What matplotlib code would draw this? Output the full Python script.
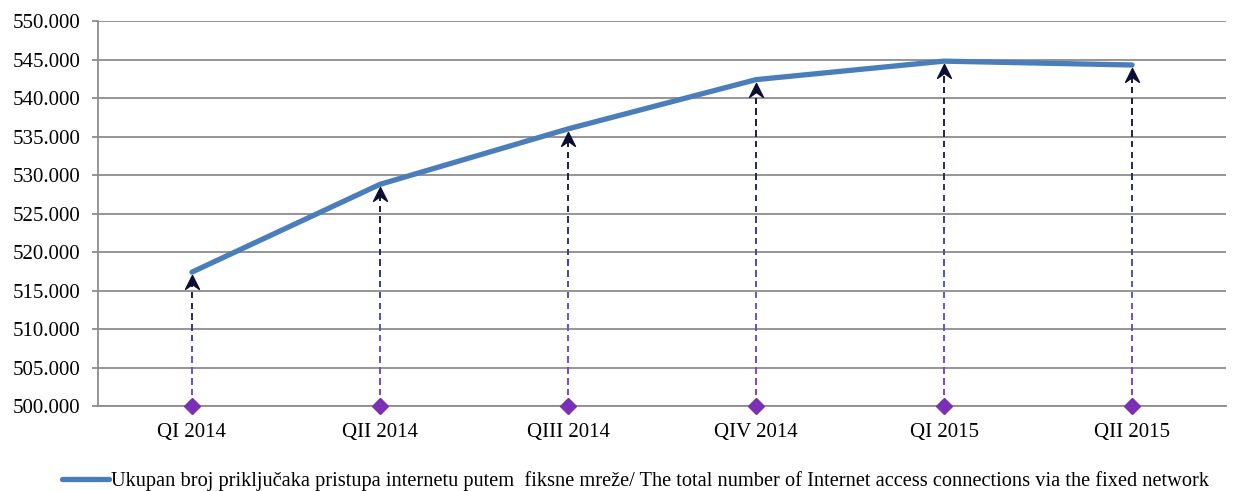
import numpy as np
import matplotlib
matplotlib.use('Agg')
import matplotlib.pyplot as plt
from matplotlib.path import Path
from matplotlib.colors import LinearSegmentedColormap
from matplotlib.ticker import FuncFormatter

quarters = ['QI 2014', 'QII 2014', 'QIII 2014', 'QIV 2014', 'QI 2015', 'QII 2015']
connections = [517400, 528800, 536000, 542400, 544800, 544300]
legend_label = ('Ukupan broj priključaka pristupa internetu putem  fiksne mreže/ '
                'The total number of Internet access connections via the fixed network')

plt.rcParams['font.family'] = ['Liberation Serif', 'DejaVu Serif']

fig = plt.figure(figsize=(12.37, 4.91), dpi=100)
ax = fig.add_axes([0.0792, 0.173, 0.912, 0.784])

x = np.arange(len(quarters))
base = 500000
ax.set_xlim(-0.5, len(quarters) - 0.5)
ax.set_ylim(500000, 550000)
ax.set_yticks(np.arange(500000, 550001, 5000))
ax.yaxis.set_major_formatter(FuncFormatter(lambda v, p: f'{v/1000:.3f}'))
ax.set_xticks(x)
ax.set_xticklabels(quarters)
ax.tick_params(axis='x', length=0, labelsize=15, pad=12)
ax.tick_params(axis='y', length=4.5, width=1.3, color='#8c8c8c', labelsize=15, pad=8)
ax.grid(axis='y', color='#8c8c8c', linewidth=1.3)
ax.set_axisbelow(True)
for s in ['top', 'right']:
    ax.spines[s].set_visible(False)
ax.spines['left'].set_color('#8c8c8c')
ax.spines['left'].set_linewidth(1.3)
ax.spines['bottom'].set_color('#8c8c8c')
ax.spines['bottom'].set_linewidth(1.3)

# gradient dashed drop lines
cmap = LinearSegmentedColormap.from_list('drop', ['#8a3cc8', '#5a5ad8', '#2a2a70', '#141438'])
dash, gap = 850, 550
for xi, v in zip(x, connections):
    top = v - 1000
    y0 = base
    while y0 < top:
        y1 = min(y0 + dash, top)
        frac = (y0 - base) / (top - base)
        ax.plot([xi, xi], [y0, y1], color=cmap(frac), linewidth=1.4, solid_capstyle='butt', zorder=3)
        y0 = y1 + gap

head = Path([(0, 0), (-0.5, -1.0), (0, -0.65), (0.5, -1.0), (0, 0)],
            [Path.MOVETO, Path.LINETO, Path.LINETO, Path.LINETO, Path.CLOSEPOLY])
ax.plot(x, [v - 400 for v in connections], linestyle='none', marker=head, markersize=20,
        color='#0d0d33', zorder=4)
ax.plot(x, [base] * len(x), linestyle='none', marker='D', markersize=8,
        color='#7a2fb5', clip_on=False, zorder=5)

line, = ax.plot(x, connections, color='#4a7ebb', linewidth=3.8, solid_capstyle='round', zorder=6)

fig.legend([line], [legend_label], loc='lower left', bbox_to_anchor=(0.035, -0.037),
           frameon=False, fontsize=14.7, handlelength=2.3, handletextpad=0.1)

fig.savefig('out.png', dpi=100)
